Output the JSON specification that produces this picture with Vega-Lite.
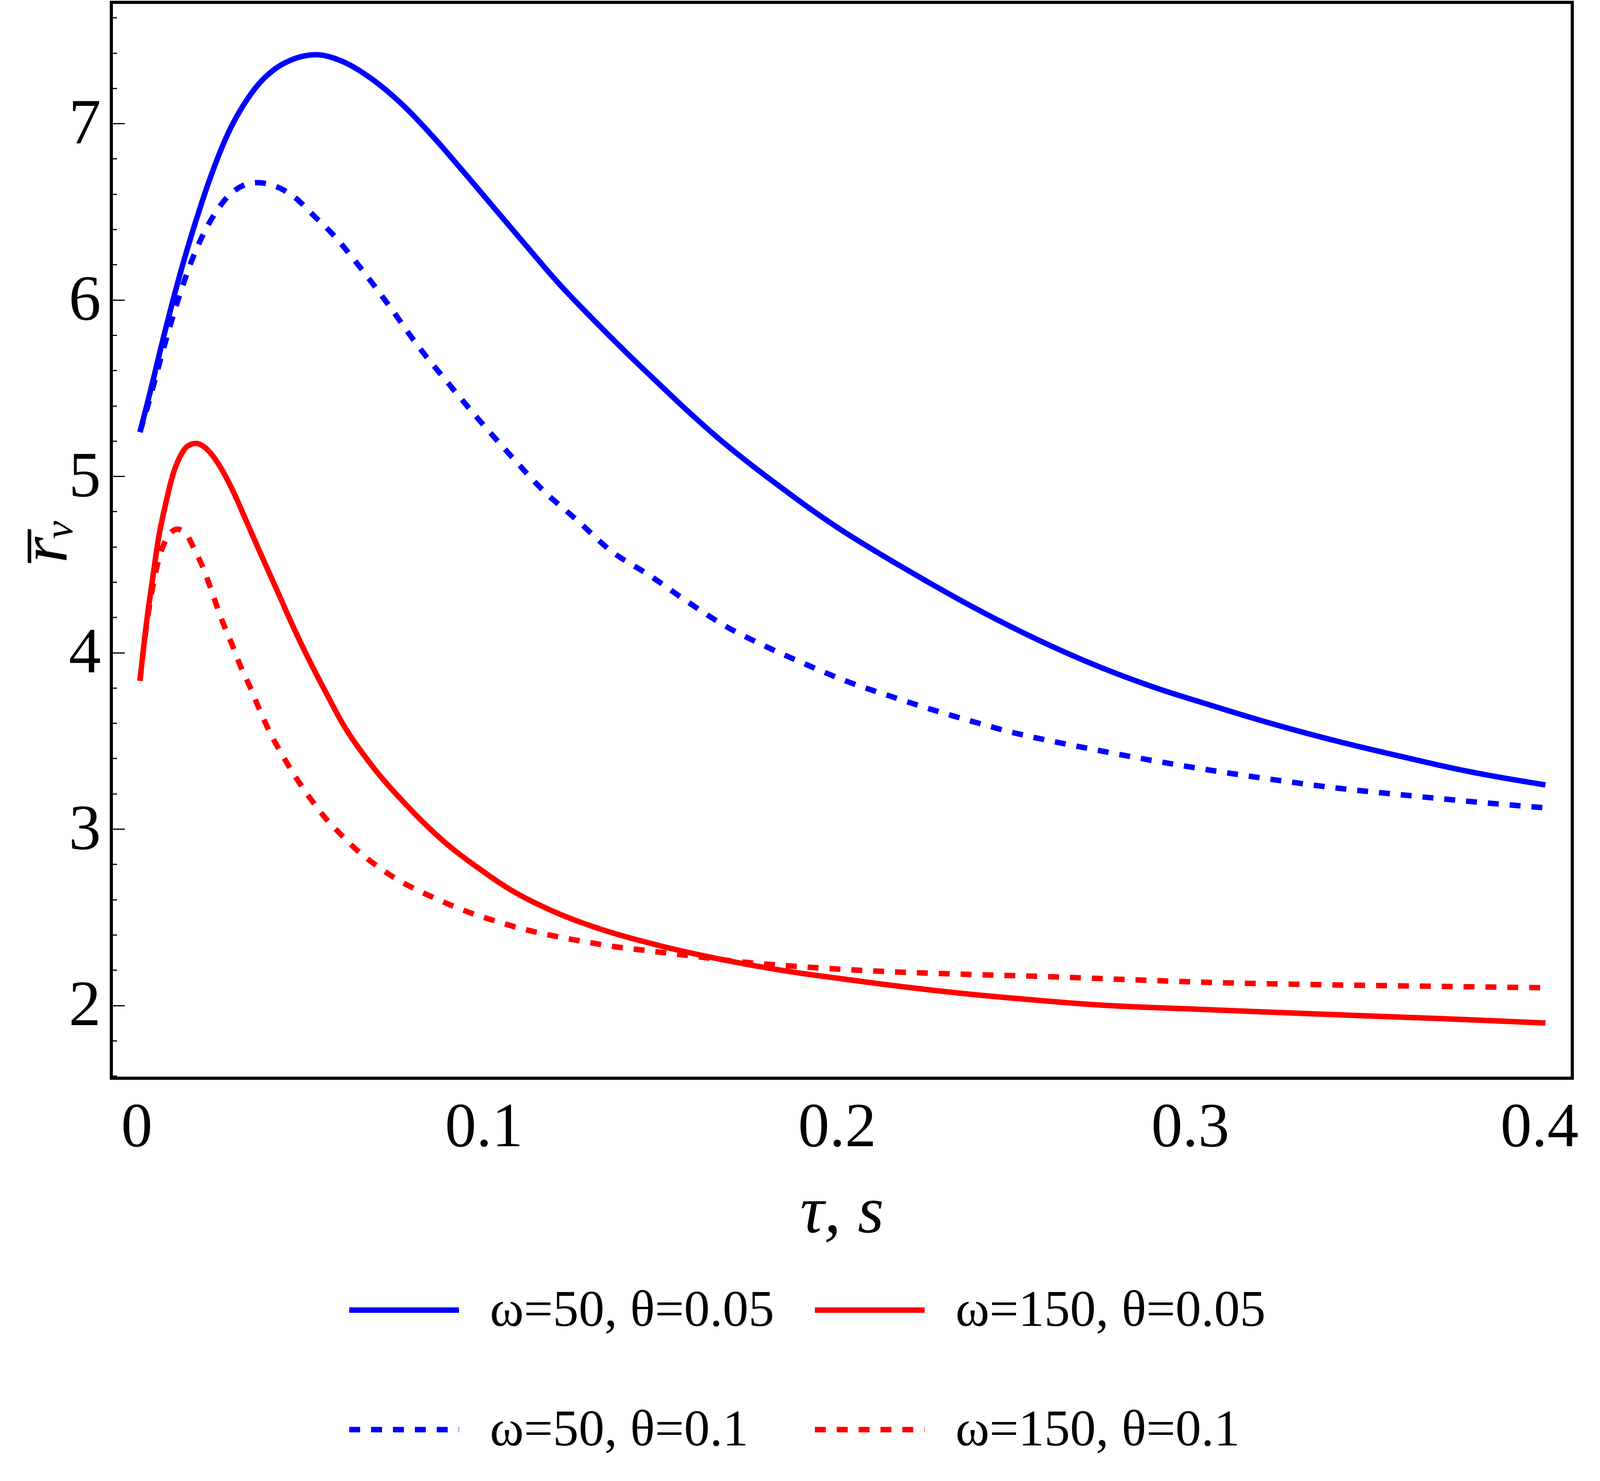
{
  "$schema": "https://vega.github.io/schema/vega-lite/v6.json",
  "width": 3740,
  "height": 2754,
  "autosize": {"type": "none"},
  "padding": {"left": 285, "top": 6, "right": 775, "bottom": 1031},
  "background": "white",
  "config": {
    "font": "Liberation Serif",
    "view": {"stroke": "black", "strokeWidth": 8}
  },
  "data": {
    "values": [
      {"series": "ω=50, θ=0.05", "tau": 0.0026, "r": 5.25},
      {"series": "ω=50, θ=0.05", "tau": 0.0054, "r": 5.47},
      {"series": "ω=50, θ=0.05", "tau": 0.0098, "r": 5.83},
      {"series": "ω=50, θ=0.05", "tau": 0.0143, "r": 6.17},
      {"series": "ω=50, θ=0.05", "tau": 0.0188, "r": 6.47},
      {"series": "ω=50, θ=0.05", "tau": 0.0232, "r": 6.73},
      {"series": "ω=50, θ=0.05", "tau": 0.0277, "r": 6.95},
      {"series": "ω=50, θ=0.05", "tau": 0.0321, "r": 7.11},
      {"series": "ω=50, θ=0.05", "tau": 0.0365, "r": 7.23},
      {"series": "ω=50, θ=0.05", "tau": 0.0409, "r": 7.31},
      {"series": "ω=50, θ=0.05", "tau": 0.0454, "r": 7.36},
      {"series": "ω=50, θ=0.05", "tau": 0.0525, "r": 7.39},
      {"series": "ω=50, θ=0.05", "tau": 0.0596, "r": 7.355},
      {"series": "ω=50, θ=0.05", "tau": 0.0676, "r": 7.262},
      {"series": "ω=50, θ=0.05", "tau": 0.0765, "r": 7.115},
      {"series": "ω=50, θ=0.05", "tau": 0.0853, "r": 6.932},
      {"series": "ω=50, θ=0.05", "tau": 0.0942, "r": 6.727},
      {"series": "ω=50, θ=0.05", "tau": 0.1031, "r": 6.517},
      {"series": "ω=50, θ=0.05", "tau": 0.112, "r": 6.307},
      {"series": "ω=50, θ=0.05", "tau": 0.1209, "r": 6.1},
      {"series": "ω=50, θ=0.05", "tau": 0.1313, "r": 5.882},
      {"series": "ω=50, θ=0.05", "tau": 0.1403, "r": 5.702},
      {"series": "ω=50, θ=0.05", "tau": 0.1491, "r": 5.533},
      {"series": "ω=50, θ=0.05", "tau": 0.158, "r": 5.365},
      {"series": "ω=50, θ=0.05", "tau": 0.1669, "r": 5.207},
      {"series": "ω=50, θ=0.05", "tau": 0.1757, "r": 5.065},
      {"series": "ω=50, θ=0.05", "tau": 0.1846, "r": 4.93},
      {"series": "ω=50, θ=0.05", "tau": 0.1935, "r": 4.8},
      {"series": "ω=50, θ=0.05", "tau": 0.2024, "r": 4.68},
      {"series": "ω=50, θ=0.05", "tau": 0.2113, "r": 4.57},
      {"series": "ω=50, θ=0.05", "tau": 0.2202, "r": 4.465},
      {"series": "ω=50, θ=0.05", "tau": 0.2379, "r": 4.265},
      {"series": "ω=50, θ=0.05", "tau": 0.2556, "r": 4.085},
      {"series": "ω=50, θ=0.05", "tau": 0.2706, "r": 3.95},
      {"series": "ω=50, θ=0.05", "tau": 0.2883, "r": 3.814},
      {"series": "ω=50, θ=0.05", "tau": 0.3061, "r": 3.7},
      {"series": "ω=50, θ=0.05", "tau": 0.3239, "r": 3.593},
      {"series": "ω=50, θ=0.05", "tau": 0.3416, "r": 3.498},
      {"series": "ω=50, θ=0.05", "tau": 0.3594, "r": 3.413},
      {"series": "ω=50, θ=0.05", "tau": 0.3772, "r": 3.333},
      {"series": "ω=50, θ=0.05", "tau": 0.4006, "r": 3.25},

      {"series": "ω=150, θ=0.05", "tau": 0.0026, "r": 3.84},
      {"series": "ω=150, θ=0.05", "tau": 0.0045, "r": 4.175},
      {"series": "ω=150, θ=0.05", "tau": 0.0062, "r": 4.42},
      {"series": "ω=150, θ=0.05", "tau": 0.0078, "r": 4.64},
      {"series": "ω=150, θ=0.05", "tau": 0.0099, "r": 4.845},
      {"series": "ω=150, θ=0.05", "tau": 0.012, "r": 5.013},
      {"series": "ω=150, θ=0.05", "tau": 0.014, "r": 5.113},
      {"series": "ω=150, θ=0.05", "tau": 0.0161, "r": 5.171},
      {"series": "ω=150, θ=0.05", "tau": 0.0185, "r": 5.186},
      {"series": "ω=150, θ=0.05", "tau": 0.0211, "r": 5.162},
      {"series": "ω=150, θ=0.05", "tau": 0.0244, "r": 5.083},
      {"series": "ω=150, θ=0.05", "tau": 0.0285, "r": 4.935},
      {"series": "ω=150, θ=0.05", "tau": 0.0327, "r": 4.747},
      {"series": "ω=150, θ=0.05", "tau": 0.0368, "r": 4.56},
      {"series": "ω=150, θ=0.05", "tau": 0.041, "r": 4.372},
      {"series": "ω=150, θ=0.05", "tau": 0.0472, "r": 4.095},
      {"series": "ω=150, θ=0.05", "tau": 0.0513, "r": 3.927},
      {"series": "ω=150, θ=0.05", "tau": 0.0555, "r": 3.765},
      {"series": "ω=150, θ=0.05", "tau": 0.0598, "r": 3.605},
      {"series": "ω=150, θ=0.05", "tau": 0.0677, "r": 3.375},
      {"series": "ω=150, θ=0.05", "tau": 0.0781, "r": 3.135},
      {"series": "ω=150, θ=0.05", "tau": 0.0898, "r": 2.91},
      {"series": "ω=150, θ=0.05", "tau": 0.0987, "r": 2.775},
      {"series": "ω=150, θ=0.05", "tau": 0.1076, "r": 2.655},
      {"series": "ω=150, θ=0.05", "tau": 0.1164, "r": 2.563},
      {"series": "ω=150, θ=0.05", "tau": 0.1253, "r": 2.487},
      {"series": "ω=150, θ=0.05", "tau": 0.1313, "r": 2.444},
      {"series": "ω=150, θ=0.05", "tau": 0.1491, "r": 2.342},
      {"series": "ω=150, θ=0.05", "tau": 0.1669, "r": 2.262},
      {"series": "ω=150, θ=0.05", "tau": 0.1846, "r": 2.198},
      {"series": "ω=150, θ=0.05", "tau": 0.2024, "r": 2.148},
      {"series": "ω=150, θ=0.05", "tau": 0.2202, "r": 2.102},
      {"series": "ω=150, θ=0.05", "tau": 0.2379, "r": 2.063},
      {"series": "ω=150, θ=0.05", "tau": 0.2556, "r": 2.031},
      {"series": "ω=150, θ=0.05", "tau": 0.2706, "r": 2.007},
      {"series": "ω=150, θ=0.05", "tau": 0.3061, "r": 1.975},
      {"series": "ω=150, θ=0.05", "tau": 0.3416, "r": 1.947},
      {"series": "ω=150, θ=0.05", "tau": 0.3772, "r": 1.92},
      {"series": "ω=150, θ=0.05", "tau": 0.4006, "r": 1.9},

      {"series": "ω=50, θ=0.1", "tau": 0.0026, "r": 5.25},
      {"series": "ω=50, θ=0.1", "tau": 0.0054, "r": 5.44},
      {"series": "ω=50, θ=0.1", "tau": 0.0088, "r": 5.69},
      {"series": "ω=50, θ=0.1", "tau": 0.0134, "r": 6.0},
      {"series": "ω=50, θ=0.1", "tau": 0.0178, "r": 6.25},
      {"series": "ω=50, θ=0.1", "tau": 0.021, "r": 6.39},
      {"series": "ω=50, θ=0.1", "tau": 0.0245, "r": 6.51},
      {"series": "ω=50, θ=0.1", "tau": 0.0294, "r": 6.62},
      {"series": "ω=50, θ=0.1", "tau": 0.0356, "r": 6.665},
      {"series": "ω=50, θ=0.1", "tau": 0.0409, "r": 6.645},
      {"series": "ω=50, θ=0.1", "tau": 0.0467, "r": 6.577},
      {"series": "ω=50, θ=0.1", "tau": 0.0516, "r": 6.482},
      {"series": "ω=50, θ=0.1", "tau": 0.0565, "r": 6.387},
      {"series": "ω=50, θ=0.1", "tau": 0.0649, "r": 6.186},
      {"series": "ω=50, θ=0.1", "tau": 0.0733, "r": 5.963},
      {"series": "ω=50, θ=0.1", "tau": 0.0813, "r": 5.74},
      {"series": "ω=50, θ=0.1", "tau": 0.0898, "r": 5.53},
      {"series": "ω=50, θ=0.1", "tau": 0.0987, "r": 5.318},
      {"series": "ω=50, θ=0.1", "tau": 0.1076, "r": 5.117},
      {"series": "ω=50, θ=0.1", "tau": 0.1164, "r": 4.927},
      {"series": "ω=50, θ=0.1", "tau": 0.1266, "r": 4.747},
      {"series": "ω=50, θ=0.1", "tau": 0.1358, "r": 4.58},
      {"series": "ω=50, θ=0.1", "tau": 0.1473, "r": 4.433},
      {"series": "ω=50, θ=0.1", "tau": 0.158, "r": 4.284},
      {"series": "ω=50, θ=0.1", "tau": 0.1687, "r": 4.147},
      {"series": "ω=50, θ=0.1", "tau": 0.1793, "r": 4.04},
      {"series": "ω=50, θ=0.1", "tau": 0.1909, "r": 3.936},
      {"series": "ω=50, θ=0.1", "tau": 0.2024, "r": 3.84},
      {"series": "ω=50, θ=0.1", "tau": 0.2148, "r": 3.755},
      {"series": "ω=50, θ=0.1", "tau": 0.2264, "r": 3.68},
      {"series": "ω=50, θ=0.1", "tau": 0.2388, "r": 3.607},
      {"series": "ω=50, θ=0.1", "tau": 0.2504, "r": 3.544},
      {"series": "ω=50, θ=0.1", "tau": 0.2628, "r": 3.49},
      {"series": "ω=50, θ=0.1", "tau": 0.2706, "r": 3.459},
      {"series": "ω=50, θ=0.1", "tau": 0.2883, "r": 3.392},
      {"series": "ω=50, θ=0.1", "tau": 0.3061, "r": 3.332},
      {"series": "ω=50, θ=0.1", "tau": 0.3239, "r": 3.279},
      {"series": "ω=50, θ=0.1", "tau": 0.3416, "r": 3.232},
      {"series": "ω=50, θ=0.1", "tau": 0.3594, "r": 3.195},
      {"series": "ω=50, θ=0.1", "tau": 0.3772, "r": 3.16},
      {"series": "ω=50, θ=0.1", "tau": 0.4006, "r": 3.12},

      {"series": "ω=150, θ=0.1", "tau": 0.0026, "r": 3.84},
      {"series": "ω=150, θ=0.1", "tau": 0.0045, "r": 4.16},
      {"series": "ω=150, θ=0.1", "tau": 0.0062, "r": 4.37},
      {"series": "ω=150, θ=0.1", "tau": 0.0078, "r": 4.52},
      {"series": "ω=150, θ=0.1", "tau": 0.0095, "r": 4.62},
      {"series": "ω=150, θ=0.1", "tau": 0.0132, "r": 4.7},
      {"series": "ω=150, θ=0.1", "tau": 0.0156, "r": 4.675},
      {"series": "ω=150, θ=0.1", "tau": 0.0178, "r": 4.595},
      {"series": "ω=150, θ=0.1", "tau": 0.0207, "r": 4.47},
      {"series": "ω=150, θ=0.1", "tau": 0.0232, "r": 4.332},
      {"series": "ω=150, θ=0.1", "tau": 0.0256, "r": 4.195},
      {"series": "ω=150, θ=0.1", "tau": 0.0285, "r": 4.055},
      {"series": "ω=150, θ=0.1", "tau": 0.031, "r": 3.927},
      {"series": "ω=150, θ=0.1", "tau": 0.0339, "r": 3.8},
      {"series": "ω=150, θ=0.1", "tau": 0.0365, "r": 3.675},
      {"series": "ω=150, θ=0.1", "tau": 0.0396, "r": 3.54},
      {"series": "ω=150, θ=0.1", "tau": 0.0432, "r": 3.41},
      {"series": "ω=150, θ=0.1", "tau": 0.0467, "r": 3.294},
      {"series": "ω=150, θ=0.1", "tau": 0.0507, "r": 3.177},
      {"series": "ω=150, θ=0.1", "tau": 0.0547, "r": 3.072},
      {"series": "ω=150, θ=0.1", "tau": 0.0591, "r": 2.977},
      {"series": "ω=150, θ=0.1", "tau": 0.064, "r": 2.881},
      {"series": "ω=150, θ=0.1", "tau": 0.0693, "r": 2.797},
      {"series": "ω=150, θ=0.1", "tau": 0.0747, "r": 2.723},
      {"series": "ω=150, θ=0.1", "tau": 0.0805, "r": 2.66},
      {"series": "ω=150, θ=0.1", "tau": 0.0862, "r": 2.607},
      {"series": "ω=150, θ=0.1", "tau": 0.092, "r": 2.557},
      {"series": "ω=150, θ=0.1", "tau": 0.0977, "r": 2.514},
      {"series": "ω=150, θ=0.1", "tau": 0.104, "r": 2.474},
      {"series": "ω=150, θ=0.1", "tau": 0.1098, "r": 2.44},
      {"series": "ω=150, θ=0.1", "tau": 0.116, "r": 2.41},
      {"series": "ω=150, θ=0.1", "tau": 0.1222, "r": 2.384},
      {"series": "ω=150, θ=0.1", "tau": 0.1298, "r": 2.357},
      {"series": "ω=150, θ=0.1", "tau": 0.134, "r": 2.342},
      {"series": "ω=150, θ=0.1", "tau": 0.1464, "r": 2.31},
      {"series": "ω=150, θ=0.1", "tau": 0.1589, "r": 2.28},
      {"series": "ω=150, θ=0.1", "tau": 0.1713, "r": 2.25},
      {"series": "ω=150, θ=0.1", "tau": 0.1837, "r": 2.228},
      {"series": "ω=150, θ=0.1", "tau": 0.1961, "r": 2.211},
      {"series": "ω=150, θ=0.1", "tau": 0.2086, "r": 2.197},
      {"series": "ω=150, θ=0.1", "tau": 0.221, "r": 2.186},
      {"series": "ω=150, θ=0.1", "tau": 0.2335, "r": 2.178},
      {"series": "ω=150, θ=0.1", "tau": 0.2459, "r": 2.171},
      {"series": "ω=150, θ=0.1", "tau": 0.2583, "r": 2.164},
      {"series": "ω=150, θ=0.1", "tau": 0.2706, "r": 2.155},
      {"series": "ω=150, θ=0.1", "tau": 0.3061, "r": 2.13},
      {"series": "ω=150, θ=0.1", "tau": 0.3416, "r": 2.116},
      {"series": "ω=150, θ=0.1", "tau": 0.3772, "r": 2.106},
      {"series": "ω=150, θ=0.1", "tau": 0.4006, "r": 2.1}
    ]
  },
  "layer": [
    {
      "mark": {"type": "line", "strokeWidth": 14, "interpolate": "monotone", "clip": true},
      "encoding": {
        "x": {
          "field": "tau",
          "type": "quantitative",
          "scale": {"domain": [-0.0055, 0.4082], "nice": false, "zero": false},
          "axis": {
            "values": [0, 0.1, 0.2, 0.3, 0.4],
            "format": ".1~f",
            "ticks": false,
            "domain": false,
            "grid": false,
            "labelFontSize": 160,
            "labelColor": "black",
            "labelPadding": 47,
            "labelLimit": 1000,
            "labelFlush": false,
            "labelOverlap": false,
            "labelOffset": {
              "condition": [
                {"test": "datum.value === 0", "value": 15},
                {"test": "datum.value === 0.4", "value": -10}
              ],
              "value": 0
            },
            "title": "τ, s",
            "titleFont": "Liberation Serif",
            "titleFontStyle": "italic",
            "titleFontWeight": "normal",
            "titleFontSize": 172,
            "titleColor": "black",
            "titlePadding": 57
          }
        },
        "y": {
          "field": "r",
          "type": "quantitative",
          "scale": {"domain": [1.587, 7.687], "nice": false, "zero": false},
          "axis": {
            "orient": "left",
            "values": [2, 3, 4, 5, 6, 7],
            "tickSize": -34,
            "tickWidth": 3,
            "tickColor": "black",
            "domain": false,
            "grid": false,
            "labelFontSize": 165,
            "labelColor": "black",
            "labelPadding": 61,
            "labelLimit": 1000,
            "title": "r̅ᵥ",
            "titleFontStyle": "italic",
            "titleFontWeight": "normal",
            "titleFontSize": 172,
            "titleColor": "black",
            "titlePadding": -30
          }
        },
        "color": {
          "field": "series",
          "type": "nominal",
          "scale": {
            "domain": ["ω=50, θ=0.05", "ω=150, θ=0.05", "ω=50, θ=0.1", "ω=150, θ=0.1"],
            "range": ["#0000ff", "#ff0000", "#0000ff", "#ff0000"]
          },
          "legend": {
            "orient": "none",
            "direction": "horizontal",
            "legendX": 602,
            "legendY": 3200,
            "columns": 2,
            "gridAlign": "none",
            "title": null,
            "padding": 0,
            "symbolType": "stroke",
            "symbolSize": 78961,
            "symbolStrokeWidth": 14,
            "labelFontSize": 132,
            "labelColor": "black",
            "labelOffset": 72,
            "labelLimit": 2000,
            "columnPadding": 76,
            "rowPadding": 92
          }
        },
        "strokeDash": {
          "field": "series",
          "type": "nominal",
          "scale": {
            "domain": ["ω=50, θ=0.05", "ω=150, θ=0.05", "ω=50, θ=0.1", "ω=150, θ=0.1"],
            "range": [[1, 0], [1, 0], [28, 28], [28, 28]]
          }
        }
      }
    },
    {
      "mark": {"type": "point", "opacity": 0},
      "encoding": {
        "y": {
          "field": "r",
          "type": "quantitative",
          "axis": {
            "orient": "left",
            "values": [1.6, 1.8, 2.2, 2.4, 2.6, 2.8, 3.2, 3.4, 3.6, 3.8, 4.2, 4.4, 4.6, 4.8, 5.2, 5.4, 5.6, 5.8, 6.2, 6.4, 6.6, 6.8, 7.2, 7.4, 7.6],
            "tickSize": -14,
            "tickWidth": 3,
            "tickColor": "black",
            "labels": false,
            "domain": false,
            "grid": false,
            "title": null
          }
        }
      }
    }
  ],
  "resolve": {"axis": {"y": "independent"}}
}
